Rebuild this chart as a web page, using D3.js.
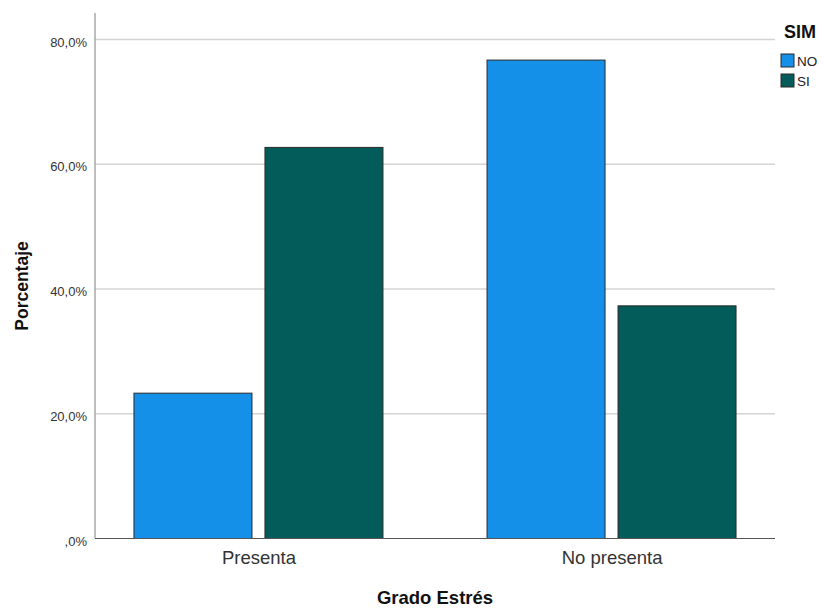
<!DOCTYPE html>
<html><head><meta charset="utf-8">
<script src="https://cdn.jsdelivr.net/npm/d3@7"></script>
<style>body{margin:0;background:#fff}svg{display:block;font-family:"Liberation Sans",Arial,sans-serif}</style>
</head><body>
<script>
const categories = ["Presenta", "No presenta"];
const seriesNames = ["NO", "SI"];
const valuesNO = [23.3, 76.7];
const valuesSI = [62.7, 37.3];
const yTicks = [0, 20, 40, 60, 80];
const tickLabels = [",0%", "20,0%", "40,0%", "60,0%", "80,0%"];
const colors = {NO: "#1490e8", SI: "#035c5a"};

(function () {
const W = 824, H = 609;
const svg = d3.select("body").append("svg").attr("width", W).attr("height", H);
const pLeft = 95, pRight = 775, pTop = 13, pBottom = 538.5;

const y = d3.scaleLinear().domain([0, 80]).range([pBottom, 39.5]);
const x = d3.scalePoint().domain(categories).range([pLeft, pRight]).padding(0.463);
const xs = d3.scaleBand().domain(seriesNames).range([-124.5, 124.5]).paddingInner(0.0992);

// grid
svg.append("g").selectAll("line").data(yTicks.filter(d => d > 0)).join("line")
  .attr("x1", pLeft).attr("x2", pRight).attr("y1", d => y(d)).attr("y2", d => y(d))
  .attr("stroke", "#d4d4d4").attr("stroke-width", 1.5);

// y axis
const yAxis = d3.axisLeft(y).tickValues(yTicks).tickSize(0).tickPadding(8)
  .tickFormat((d, i) => tickLabels[i]);
const gy = svg.append("g").attr("transform", `translate(${pLeft},0)`).call(yAxis);
gy.select(".domain").remove();
gy.selectAll("text").attr("font-size", 13).attr("fill", "#333").attr("dy", "0.5em")
  .attr("font-family", "Liberation Sans, Arial, sans-serif");
svg.append("line").attr("x1", pLeft).attr("x2", pLeft).attr("y1", pTop).attr("y2", pBottom)
  .attr("stroke", "#a8a8a8").attr("stroke-width", 1.5);

// bars
const data = [];
categories.forEach((c, i) => {
  data.push({cat: c, s: "NO", v: valuesNO[i]});
  data.push({cat: c, s: "SI", v: valuesSI[i]});
});
svg.append("g").selectAll("rect").data(data).join("rect")
  .attr("x", d => x(d.cat) + xs(d.s))
  .attr("width", xs.bandwidth())
  .attr("y", d => y(d.v))
  .attr("height", d => y(0) - y(d.v))
  .attr("fill", d => colors[d.s])
  .attr("stroke", "#2a2a2a").attr("stroke-width", 1);

// x axis line
svg.append("line").attr("x1", pLeft).attr("x2", pRight).attr("y1", pBottom).attr("y2", pBottom)
  .attr("stroke", "#555").attr("stroke-width", 1);

// x axis labels
const xAxis = d3.axisBottom(x).tickSize(0).tickPadding(12);
const gx = svg.append("g").attr("transform", `translate(0,${pBottom})`).call(xAxis);
gx.select(".domain").remove();
gx.selectAll("text").attr("font-size", 18.5).attr("fill", "#333")
  .attr("font-family", "Liberation Sans, Arial, sans-serif");

// titles
svg.append("text").attr("x", 435).attr("y", 604).attr("text-anchor", "middle")
  .attr("font-size", 18.5).attr("font-weight", "bold").attr("fill", "#111").text("Grado Estrés");
svg.append("text").attr("transform", "translate(28,286) rotate(-90)").attr("text-anchor", "middle")
  .attr("font-size", 17.5).attr("font-weight", "bold").attr("fill", "#111").text("Porcentaje");

// legend
svg.append("text").attr("x", 784).attr("y", 38).attr("font-size", 18).attr("font-weight", "bold")
  .attr("fill", "#111").text("SIM");
const lg = svg.append("g").selectAll("g").data(seriesNames).join("g")
  .attr("transform", (d, i) => `translate(781,${54 + i * 20})`);
lg.append("rect").attr("width", 13).attr("height", 13).attr("fill", d => colors[d])
  .attr("stroke", "#2a2a2a").attr("stroke-width", 1);
lg.append("text").attr("x", 16).attr("y", 12).attr("font-size", 13.5).attr("fill", "#222").text(d => d);
})();
</script>
</body></html>
